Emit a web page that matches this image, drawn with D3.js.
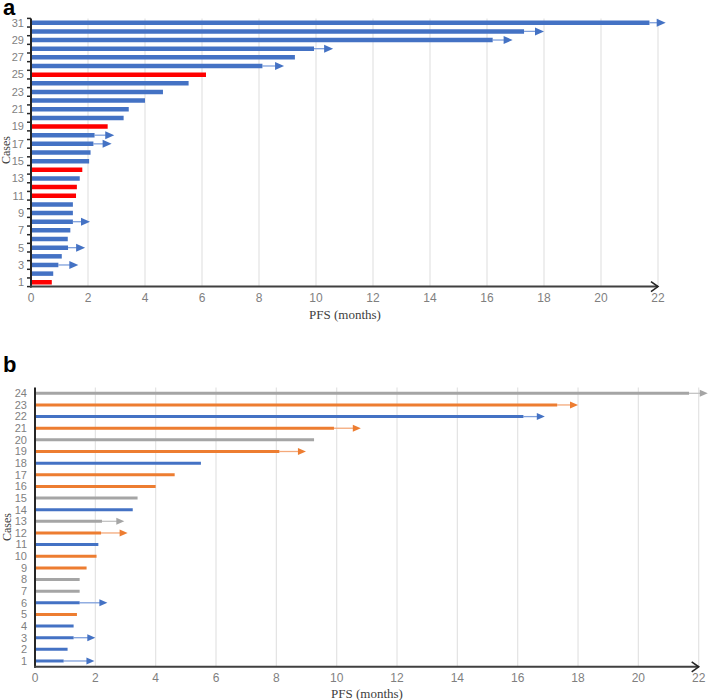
<!DOCTYPE html>
<html><head><meta charset="utf-8">
<script src="https://cdn.jsdelivr.net/npm/d3@7"></script>
<style>body{margin:0;background:#fff}svg{display:block}</style>
</head><body>
<script>
// ---- Panel a data ----
const casesA = [1,2,3,4,5,6,7,8,9,10,11,12,13,14,15,16,17,18,19,20,21,22,23,24,25,26,27,28,29,30,31];
const pfsA = [0.73,0.78,0.96,1.08,1.30,1.29,1.38,1.47,1.47,1.47,1.58,1.61,1.71,1.80,2.04,2.09,2.19,2.23,2.69,3.25,3.43,4.00,4.63,5.53,6.14,8.12,9.26,9.93,16.2,17.3,21.7];
const arrowA = [null,null,1.66,null,1.90,null,null,2.07,null,null,null,null,null,null,null,null,2.83,2.92,null,null,null,null,null,null,null,8.88,null,10.6,16.9,18.0,22.27];
const groupA = ["r","b","b","b","b","b","b","b","b","b","r","r","b","r","b","b","b","b","r","b","b","b","b","b","r","b","b","b","b","b","b"];
const ticksA = [1,3,5,7,9,11,13,15,17,19,21,23,25,27,29,31];
// ---- Panel b data ----
const casesB = [1,2,3,4,5,6,7,8,9,10,11,12,13,14,15,16,17,18,19,20,21,22,23,24];
const pfsB = [0.95,1.08,1.28,1.28,1.39,1.48,1.48,1.48,1.71,2.04,2.10,2.19,2.22,3.24,3.40,4.00,4.63,5.50,8.10,9.25,9.91,16.19,17.31,21.68];
const arrowB = [1.97,null,2.00,null,null,2.40,null,null,null,null,null,3.07,2.96,null,null,null,null,null,8.98,null,10.8,16.9,18.0,22.3];
const groupB = ["b","b","b","b","o","b","g","g","o","o","b","o","g","b","g","o","o","b","o","g","o","b","o","g"];
const xTicks = [0,2,4,6,8,10,12,14,16,18,20,22];

const colors = {b:"#4472C4", r:"#FF0000", o:"#ED7D31", g:"#A5A5A5"};
const lightColors = {b:"#7FA0DC", r:"#FF6666", o:"#F4A97A", g:"#C4C4C4"};

const svg = d3.select("body").append("svg").attr("width",709).attr("height",700);

function panel(opts){
  const {cases,pfs,arrows,groups,yTicks,x0,x1,yTop,yBot,nCases,barW,label,labelY,xLabelY,xTitleX,xTitleY,casesX,casesY,fontY,yLabOff,minorTicks} = opts;
  const x = d3.scaleLinear().domain([0,22]).range([x0,x1]);
  const y = d3.scaleLinear().domain([0.5,nCases+0.5]).range([yBot,yTop]);
  const g = svg.append("g");
  // gridlines
  g.selectAll(".grid").data(xTicks.slice(1)).join("line")
    .attr("x1",d=>x(d)).attr("x2",d=>x(d)).attr("y1",yTop).attr("y2",yBot)
    .attr("stroke","#e3e3e3").attr("stroke-width",1.2);
  // arrows (censored)
  const arr = cases.map((c,i)=>({c,v:pfs[i],a:arrows[i],g:groups[i]})).filter(d=>d.a!=null);
  const hl = barW>3.5 ? 9 : 8, hh = barW>3.5 ? 4 : 3.5;
  g.selectAll(".arrl").data(arr).join("line")
    .attr("x1",d=>x(d.v)).attr("x2",d=>x(d.a)-hl+1).attr("y1",d=>y(d.c)).attr("y2",d=>y(d.c))
    .attr("stroke",d=>lightColors[d.g]).attr("stroke-width",1.3);
  g.selectAll(".arrh").data(arr).join("path")
    .attr("d",d=>{const tx=x(d.a), ty=y(d.c); return `M${tx},${ty}L${tx-hl},${ty-hh}L${tx-hl},${ty+hh}Z`;})
    .attr("fill",d=>colors[d.g]);
  // bars
  g.selectAll(".bar").data(cases).join("line")
    .attr("x1",x(0)).attr("x2",(d,i)=>x(pfs[i])).attr("y1",d=>y(d)).attr("y2",d=>y(d))
    .attr("stroke",(d,i)=>colors[groups[i]]).attr("stroke-width",barW);
  // y axis
  g.append("line").attr("x1",x0).attr("x2",x0).attr("y1",yTop).attr("y2",yBot+1)
    .attr("stroke","#262626").attr("stroke-width",2);
  if(minorTicks){
    g.selectAll(".mt").data(d3.range(0,nCases+1)).join("line")
      .attr("x1",x0-4).attr("x2",x0).attr("y1",d=>y(d+0.5)).attr("y2",d=>y(d+0.5))
      .attr("stroke","#262626").attr("stroke-width",1.5);
  }
  g.selectAll(".yl").data(yTicks).join("text")
    .attr("x",x0-yLabOff).attr("y",d=>y(d)).attr("dy","0.35em").attr("text-anchor","end")
    .attr("font-family","Liberation Sans, Arial, sans-serif").attr("font-size",fontY)
    .attr("fill","#7f7f7f").text(d=>d);
  // x axis with arrow
  g.append("line").attr("x1",x0-1).attr("x2",x1).attr("y1",yBot).attr("y2",yBot)
    .attr("stroke","#404040").attr("stroke-width",2);
  g.append("path").attr("d",`M${x1-7},${yBot-5}L${x1},${yBot}L${x1-7},${yBot+5}`)
    .attr("fill","none").attr("stroke","#262626").attr("stroke-width",1.6);
  g.selectAll(".xl").data(xTicks).join("text")
    .attr("x",d=>x(d)).attr("y",xLabelY).attr("dy","0.35em").attr("text-anchor","middle")
    .attr("font-family","Liberation Sans, Arial, sans-serif").attr("font-size",12)
    .attr("fill","#7f7f7f").text(d=>d);
  // titles
  g.append("text").attr("x",xTitleX).attr("y",xTitleY).attr("dy","0.35em").attr("text-anchor","middle")
    .attr("font-family","Liberation Serif, Times New Roman, serif").attr("font-size",13)
    .attr("fill","#404040").text("PFS (months)");
  g.append("text").attr("transform",`translate(${casesX},${casesY}) rotate(-90)`).attr("dy","0.35em")
    .attr("text-anchor","middle").attr("font-family","Liberation Serif, Times New Roman, serif")
    .attr("font-size",12).attr("fill","#404040").text("Cases");
  g.append("text").attr("x",3).attr("y",labelY).attr("font-family","Liberation Sans, Arial, sans-serif")
    .attr("font-weight","bold").attr("font-size",22).attr("fill","#000").text(label);
}

panel({cases:casesA,pfs:pfsA,arrows:arrowA,groups:groupA,yTicks:ticksA,x0:31,x1:658,yTop:18.4,yBot:286.6,
  nCases:31,barW:4.5,label:"a",labelY:15,xLabelY:298,xTitleX:345,xTitleY:314,casesX:6,casesY:150,fontY:11,yLabOff:7,minorTicks:true});
panel({cases:casesB,pfs:pfsB,arrows:arrowB,groups:groupB,yTicks:casesB,x0:35,x1:698.7,yTop:387.5,yBot:666.8,
  nCases:24,barW:3,label:"b",labelY:372,xLabelY:678,xTitleX:367,xTitleY:693,casesX:7,casesY:527,fontY:11,yLabOff:8,minorTicks:false});
</script>
</body></html>
